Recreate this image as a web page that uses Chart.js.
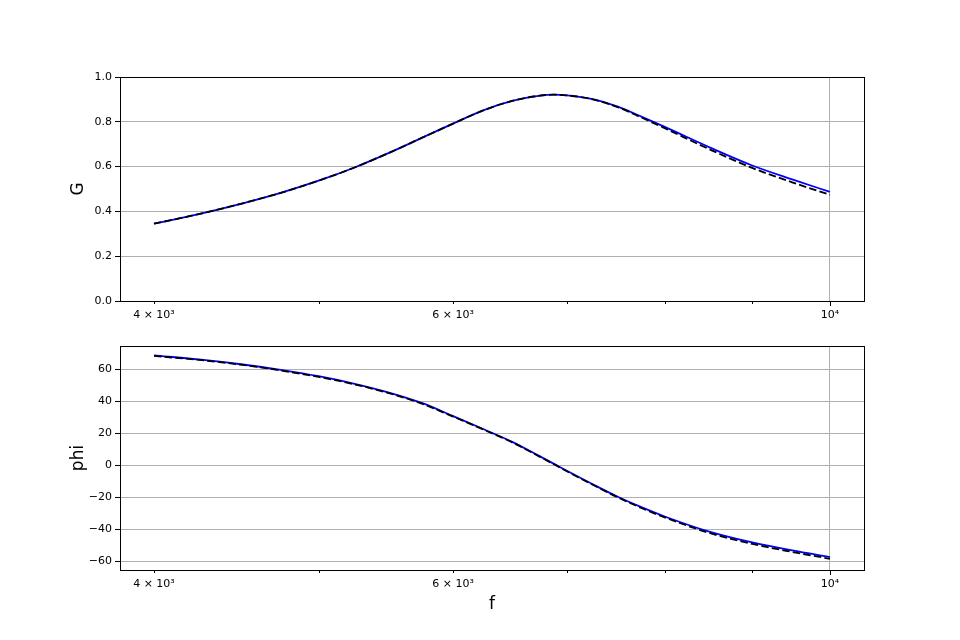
<!DOCTYPE html>
<html>
<head>
<meta charset="utf-8">
<script src="https://cdn.jsdelivr.net/npm/chart.js@4.4.1/dist/chart.umd.min.js"></script>
<style>
  body { margin: 0; background: #fff; }
  #wrap { position: relative; width: 960px; height: 640px; }
  canvas { position: absolute; left: 0; }
  #gain { top: 0; }
  #phase { top: 325px; }
</style>
</head>
<body>
<div id="wrap">
  <canvas id="gain" width="960" height="325"></canvas>
  <canvas id="phase" width="960" height="315"></canvas>
</div>
<script>
const freq = [4000, 4250, 4500, 4750, 5000, 5250, 5500, 5750, 6000, 6250, 6500,
              6750, 6875, 7000, 7250, 7500, 7750, 8000, 8500, 9000, 9500, 10000];

// blue = measured, black dashed = model
const gainMeasured = [0.345, 0.388, 0.434, 0.483, 0.537, 0.596, 0.661, 0.728, 0.792, 0.851, 0.893,
                      0.917, 0.921, 0.918, 0.901, 0.868, 0.822, 0.776, 0.685, 0.605, 0.543, 0.487];
const gainModel = [0.345, 0.388, 0.434, 0.483, 0.537, 0.596, 0.661, 0.728, 0.792, 0.851, 0.893,
                   0.917, 0.921, 0.918, 0.900, 0.865, 0.818, 0.770, 0.676, 0.594, 0.530, 0.474];

const phaseMeasured = [68.5, 66.0, 63.0, 59.5, 55.5, 50.8, 45.3, 38.8, 30.6, 22.5, 14.5,
                       5.4, 0.9, -3.6, -12.0, -19.8, -26.5, -32.3, -41.8, -48.4, -53.4, -57.5];
const phaseModel = [68.2, 65.7, 62.7, 59.1, 55.1, 50.4, 44.9, 38.4, 30.3, 22.2, 14.2,
                    5.1, 0.6, -3.9, -12.3, -20.2, -27.0, -32.9, -42.6, -49.3, -54.3, -58.6];

const xTicks = [4000, 5000, 6000, 7000, 8000, 9000, 10000];
const xTickLabels = ['4 × 10³', '', '6 × 10³', '', '', '', '10⁴'];
const gTicks = [0, 0.2, 0.4, 0.6, 0.8, 1.0];
const phiTicks = [-60, -40, -20, 0, 20, 40, 60];

const gridGray = '#b0b0b0';
const tickFont = { family: 'DejaVu Sans', size: 11 };
const titleFont = { family: 'DejaVu Sans', size: 17 };

// box around the axes + x tick marks (longer one for the decade)
const framePlugin = {
  id: 'frame',
  afterDraw(chart) {
    const { ctx, chartArea: a } = chart;
    const xs = chart.scales.x;
    ctx.save();
    ctx.strokeStyle = '#000';
    ctx.lineWidth = 1;
    xTicks.forEach(v => {
      const px = Math.round(xs.getPixelForValue(v)) + 0.5;
      const len = v === 10000 ? 5 : 3;
      ctx.beginPath();
      ctx.moveTo(px, a.bottom);
      ctx.lineTo(px, a.bottom + len);
      ctx.stroke();
    });
    ctx.strokeRect(Math.round(a.left) + 0.5, Math.round(a.top) + 0.5,
                   Math.round(a.right - a.left), Math.round(a.bottom - a.top));
    ctx.restore();
  }
};

function pts(ys) {
  return freq.map((f, i) => ({ x: f, y: ys[i] }));
}

function makeChart(id, measured, model, yTicks, yMin, yMax, yTitle, fmt, pad, xHeight, xTitle) {
  return new Chart(document.getElementById(id), {
    type: 'line',
    data: {
      datasets: [{
        data: pts(model),
        borderColor: '#000000',
        borderWidth: 1.8,
        borderDash: [7.5, 3.2],
        pointRadius: 0,
        cubicInterpolationMode: 'monotone',
        order: 0
      }, {
        data: pts(measured),
        borderColor: '#0000ff',
        borderWidth: 1.8,
        pointRadius: 0,
        cubicInterpolationMode: 'monotone',
        order: 1
      }]
    },
    options: {
      responsive: false,
      animation: false,
      layout: { padding: pad },
      plugins: { legend: { display: false }, tooltip: { enabled: false } },
      scales: {
        x: {
          type: 'logarithmic',
          min: 3820,
          max: 10472,
          afterBuildTicks: s => { s.ticks = xTicks.map(v => ({ value: v })); },
          afterFit: s => { s.height = xHeight; },
          ticks: {
            autoSkip: false,
            maxRotation: 0,
            padding: 8,
            color: '#000',
            font: tickFont,
            callback: (v, i) => xTickLabels[i]
          },
          grid: {
            drawTicks: false,
            color: c => (c.tick && c.tick.value === 10000) ? gridGray : 'rgba(0,0,0,0)',
            lineWidth: 1
          },
          border: { display: false },
          title: {
            display: !!xTitle,
            text: xTitle || '',
            color: '#000',
            font: titleFont,
            padding: 0
          }
        },
        y: {
          min: yMin,
          max: yMax,
          afterBuildTicks: s => { s.ticks = yTicks.map(v => ({ value: v })); },
          afterFit: s => { s.width = 120 - pad.left; },
          ticks: {
            padding: 3,
            color: '#000',
            font: tickFont,
            callback: fmt
          },
          grid: {
            color: gridGray,
            tickColor: '#000',
            tickLength: 5,
            lineWidth: 1
          },
          border: { display: false },
          title: {
            display: true,
            text: yTitle,
            color: '#000',
            font: titleFont,
            padding: 0
          }
        }
      }
    },
    plugins: [framePlugin]
  });
}

makeChart('gain', gainMeasured, gainModel, gTicks, 0, 1, 'G',
  v => v.toFixed(1), { top: 77, right: 96, left: 68, bottom: 0 }, 24, null);

makeChart('phase', phaseMeasured, phaseModel, phiTicks, -65.6, 74.4, 'phi',
  v => String(v).replace('-', '−'), { top: 21, right: 96, left: 68, bottom: 25 }, 45, 'f');
</script>
</body>
</html>
